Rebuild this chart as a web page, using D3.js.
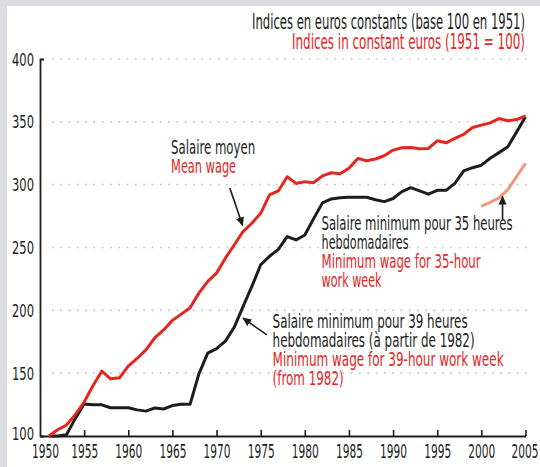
<!DOCTYPE html>
<html>
<head>
<meta charset="utf-8">
<script src="https://cdn.jsdelivr.net/npm/d3@7"></script>
<style>
  body { margin: 0; background: #dcdde0; }
  svg text { font-family: "Liberation Sans Narrow", "DejaVu Sans Condensed", "Open Sans", sans-serif; }
</style>
</head>
<body>
<div id="wrapper"></div>
<script>
'use strict';

//#region DATASET
const years = d3.range(1951, 2006);
const meanWage = [
  100, 105, 108.7, 117, 127, 140, 151.6, 145.5, 146.3, 155.6,
  161.7, 168.5, 178, 184.4, 192, 197, 202, 213.7, 223, 229.6,
  241.5, 252, 262.7, 269.3, 277.2, 291.8, 295, 306.3, 301, 302.4,
  301.6, 307, 309.5, 308.7, 313, 320.9, 319, 320.4, 323, 327.5,
  329.4, 329.6, 328.6, 328.8, 334.9, 333.3, 336.8, 340, 345.5, 347.4,
  349.2, 352.6, 350.8, 351.8, 354.8
];
const minWage39 = [
  100, 100, 101, 114, 125.5, 124.8, 124.8, 122.5, 122.5, 122.5,
  120.8, 119.8, 122.3, 121.5, 124.2, 125.2, 125.2, 149.5, 166, 169.5,
  175.5, 186.5, 203, 219, 236.3, 243, 248.5, 258.7, 256, 260,
  273, 285.5, 288.6, 289.5, 290, 290, 290, 288, 286.5, 289,
  294.5, 297.6, 295, 292.4, 295.5, 295.5, 301, 311, 313.5, 315.5,
  321, 325.5, 330.2, 342, 354
];
const years35 = [2000, 2001, 2002, 2003, 2004, 2005];
const minWage35 = [283, 286, 289.5, 296, 306.5, 317];

const xTicks = d3.range(1950, 2006, 5);
const yTicks = d3.range(100, 401, 50);
const titleLines = ['Indices en euros constants (base 100 en 1951)', 'Indices in constant euros (1951 = 100)'];
//#endregion DATASET

//#region CHART DIMENSIONS
const dimensions = {
  width: 540,
  height: 467,
  panel: { left: 7, top: 6 },
  plot: { left: 40, right: 525.5, top: 59, bottom: 436 }
};
const colors = {
  ink: '#1d1d1b',
  red: '#e3261f',
  salmon: '#f2967c',
  grid: '#c4c4c4'
};
//#endregion CHART DIMENSIONS

//#region DRAW CANVAS
const wrapper = d3.select('#wrapper').append('svg')
  .attr('width', dimensions.width)
  .attr('height', dimensions.height)
  .style('display', 'block');

wrapper.append('rect')
  .attr('x', dimensions.panel.left)
  .attr('y', dimensions.panel.top)
  .attr('width', dimensions.width - dimensions.panel.left)
  .attr('height', dimensions.height - dimensions.panel.top)
  .attr('fill', '#ffffff');

wrapper.append('defs').append('marker')
  .attr('id', 'arrow')
  .attr('viewBox', '0 0 10 10')
  .attr('refX', 9)
  .attr('refY', 5)
  .attr('markerUnits', 'userSpaceOnUse')
  .attr('markerWidth', 9)
  .attr('markerHeight', 9)
  .attr('orient', 'auto')
  .append('path')
  .attr('d', 'M0,0.5 L10,5 L0,9.5 z')
  .attr('fill', colors.ink);
//#endregion DRAW CANVAS

//#region CREATE SCALES
const xScale = d3.scaleLinear()
  .domain([1950, 2005])
  .range([dimensions.plot.left, dimensions.plot.right]);

const yScale = d3.scaleLinear()
  .domain([100, 400])
  .range([dimensions.plot.bottom, dimensions.plot.top]);
//#endregion CREATE SCALES

//#region DRAW PERIPHERALS
const grid = wrapper.append('g');
grid.selectAll('line').data(yTicks.filter(d => d > 100))
  .enter()
  .append('line')
  .attr('x1', 52)
  .attr('x2', 532)
  .attr('y1', d => yScale(d))
  .attr('y2', d => yScale(d))
  .attr('stroke', colors.grid)
  .attr('stroke-width', 1.6)
  .attr('stroke-dasharray', '1.6 6.7');

const yAxis = wrapper.append('g')
  .attr('transform', `translate(${dimensions.plot.left},0)`)
  .call(d3.axisLeft(yScale).tickValues(yTicks).tickSizeInner(0).tickSizeOuter(-4).tickPadding(6));

yAxis.select('.domain').attr('stroke', colors.ink).attr('stroke-width', 1.8);
yAxis.selectAll('text')
  .attr('fill', colors.ink)
  .style('font-size', '18.5px')
  .attr('textLength', 22)
  .attr('lengthAdjust', 'spacingAndGlyphs')
  .attr('dy', d => d === 100 ? '0.18em' : '0.33em');

const xAxis = wrapper.append('g')
  .attr('transform', `translate(0,${dimensions.plot.bottom})`)
  .call(d3.axisBottom(xScale).tickValues(xTicks).tickFormat(d3.format('d'))
    .tickSizeInner(-6).tickSizeOuter(0).tickPadding(8));

xAxis.select('.domain').attr('stroke', colors.ink).attr('stroke-width', 1.8);
xAxis.selectAll('.tick line')
  .attr('stroke', colors.ink)
  .attr('stroke-width', 1.6)
  .attr('opacity', d => d === 1950 ? 0 : 1);
xAxis.selectAll('text')
  .attr('fill', colors.ink)
  .style('font-size', '20px')
  .attr('textLength', 27)
  .attr('lengthAdjust', 'spacingAndGlyphs')
  .attr('dx', d => d === 1950 ? 5 : (d === 2005 ? -1 : 0));

const title = wrapper.append('g');
title.selectAll('text').data(titleLines)
  .enter()
  .append('text')
  .attr('x', 525)
  .attr('y', (d, i) => 29.3 + i * 20)
  .attr('text-anchor', 'end')
  .attr('fill', (d, i) => i === 0 ? colors.ink : colors.red)
  .style('font-size', '21.5px')
  .attr('textLength', (d, i) => i === 0 ? 273 : 233)
  .attr('lengthAdjust', 'spacingAndGlyphs')
  .text(d => d);
//#endregion DRAW PERIPHERALS

//#region DRAW DATA
const lineGenerator = d3.line()
  .x(d => xScale(d[0]))
  .y(d => yScale(d[1]));

const series = [
  { values: d3.zip(years, minWage39), color: colors.ink },
  { values: d3.zip(years35, minWage35), color: colors.salmon },
  { values: d3.zip(years, meanWage), color: colors.red }
];

wrapper.append('g').selectAll('path').data(series)
  .enter()
  .append('path')
  .attr('d', d => lineGenerator(d.values))
  .attr('fill', 'none')
  .attr('stroke', d => d.color)
  .attr('stroke-width', 3)
  .attr('stroke-linejoin', 'round');
//#endregion DRAW DATA

//#region ANNOTATIONS
// anchors in data space: [year, index]
const notes = [
  {
    at: [1964.85, 324.4],
    lines: [['Salaire moyen', 84, 0], ['Mean wage', 65, 1]],
    arrow: [[1971.5, 297.3], [1972.95, 267.6]]
  },
  {
    at: [1981.9, 263.9],
    lines: [['Salaire minimum pour 35 heures', 191, 0], ['hebdomadaires', 87, 0],
            ['Minimum wage for 35-hour', 159, 1], ['work week', 60, 1]],
    arrow: [[2002.4, 272.4], [2002.4, 290.6]]
  },
  {
    at: [1976.35, 185.7],
    lines: [['Salaire minimum pour 39 heures', 195, 0], ['hebdomadaires (à partir de 1982)', 202, 0],
            ['Minimum wage for 39-hour work week', 231, 1], ['(from 1982)', 71, 1]],
    arrow: [[1975.7, 180.4], [1973.0, 193.8]]
  }
];

const noteGroups = wrapper.append('g').selectAll('g').data(notes)
  .enter()
  .append('g');

noteGroups.append('text')
  .attr('x', d => xScale(d.at[0]))
  .attr('y', d => yScale(d.at[1]))
  .style('font-size', '19.5px')
  .selectAll('tspan').data(d => d.lines.map(l => ({ line: l, x: xScale(d.at[0]) })))
  .enter()
  .append('tspan')
  .attr('x', d => d.x)
  .attr('dy', (d, i) => i === 0 ? 0 : 19)
  .attr('fill', d => d.line[2] ? colors.red : colors.ink)
  .attr('textLength', d => d.line[1])
  .attr('lengthAdjust', 'spacingAndGlyphs')
  .text(d => d.line[0]);

noteGroups.append('line')
  .attr('x1', d => xScale(d.arrow[0][0]))
  .attr('y1', d => yScale(d.arrow[0][1]))
  .attr('x2', d => xScale(d.arrow[1][0]))
  .attr('y2', d => yScale(d.arrow[1][1]))
  .attr('stroke', colors.ink)
  .attr('stroke-width', 1.6)
  .attr('marker-end', 'url(#arrow)');
//#endregion ANNOTATIONS
</script>
</body>
</html>
